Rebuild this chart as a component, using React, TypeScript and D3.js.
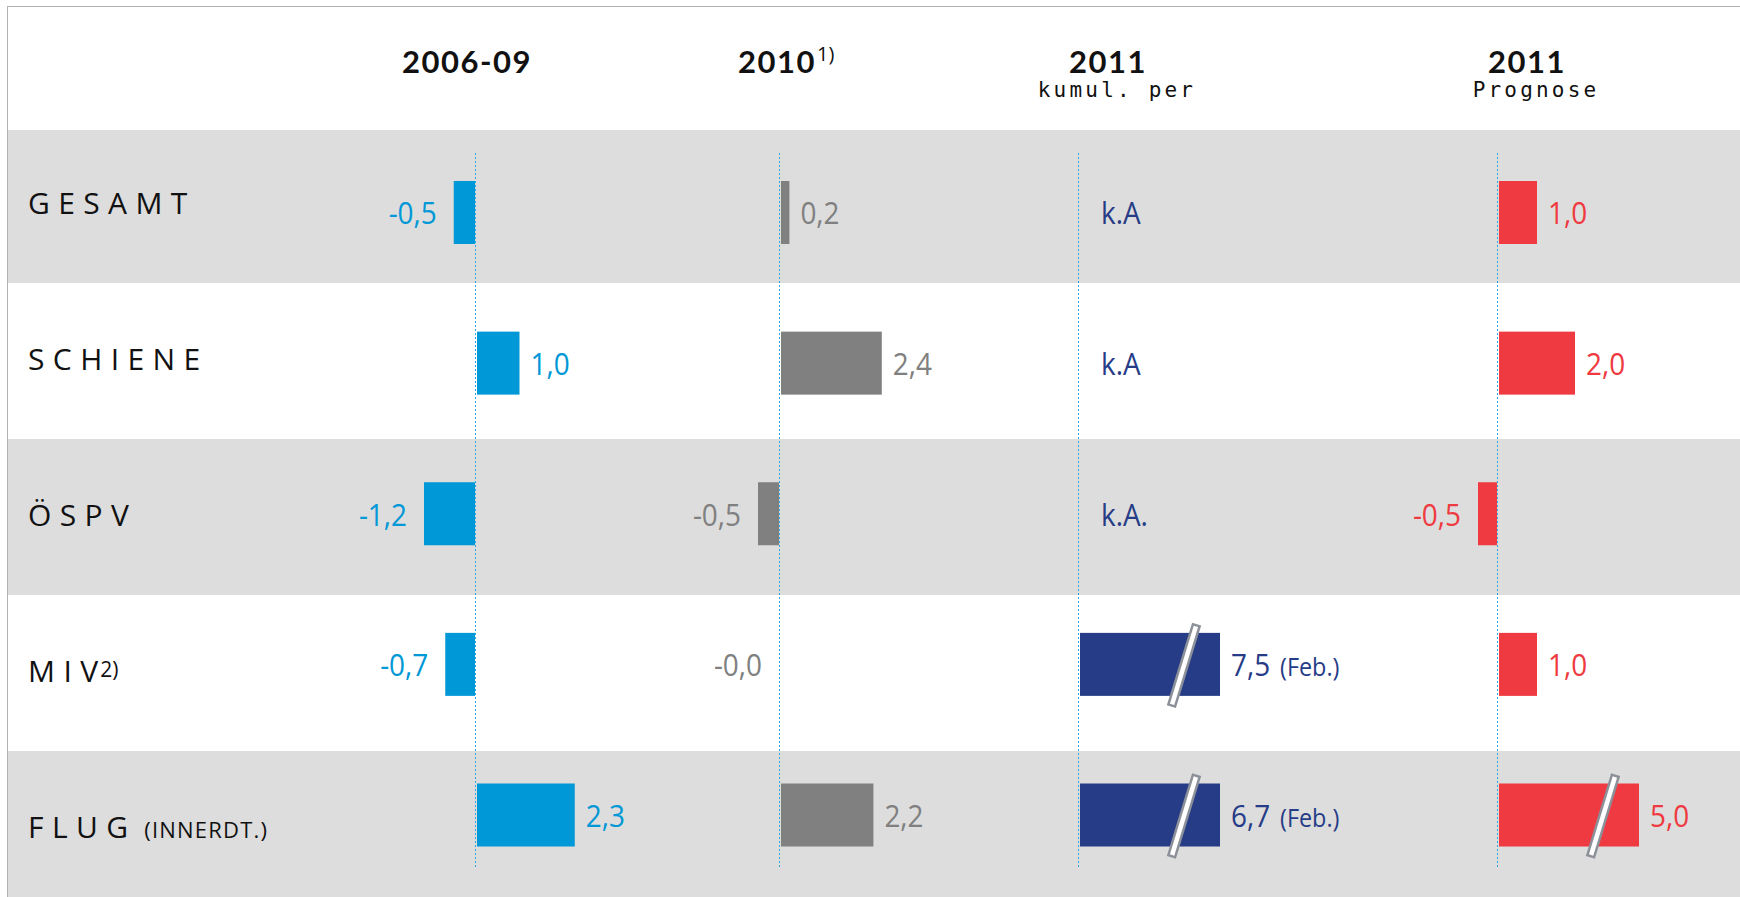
import { useEffect, useRef } from "react";
import * as d3 from "d3";

const categories = ["G E S A M T", "S C H I E N E", "Ö S P V", "M I V", "F L U G"];
const categorySup = ["", "", "", "2)", ""];
const categoryNote = ["", "", "", "", "(INNERDT.)"];

const columnTitles = ["2006-09", "2010", "2011", "2011"];
const columnTitleSup = ["", "1)", "", ""];
const columnSubtitles = ["", "", "kumul. per", "Prognose"];

const values2006to09 = [-0.5, 1.0, -1.2, -0.7, 2.3];
const values2010 = [0.2, 2.4, -0.5, -0, 2.2];
const values2011Kumul = [null, null, null, 7.5, 6.7];
const notes2011Kumul = ["k.A", "k.A", "k.A.", "", ""];
const periods2011Kumul = ["", "", "", "(Feb.)", "(Feb.)"];
const values2011Prognose = [1.0, 2.0, -0.5, 1.0, 5.0];

const W = 1740;
const H = 897;
const HEADER_BOTTOM = 130;
const BAR_H = 63;
const MAX_BAR = 140;
const VALUE_FONT = "'Open Sans', 'Noto Sans', sans-serif";

const fmt = (v: number) =>
  (v < 0 || Object.is(v, -0) ? "-" : "") + Math.abs(v).toFixed(1).replace(".", ",");

const App = () => {
  const svgRef = useRef<SVGSVGElement>(null);

  useEffect(() => {
    const svg = d3.select(svgRef.current);
    svg.selectAll("*").remove();

    const columns = [
      { values: values2006to09, color: "#0098d6", zero: 475, perUnit: 42.5, titleX: 467 },
      { values: values2010, color: "#808080", zero: 779, perUnit: 42, titleX: 777 },
      { values: values2011Kumul, color: "#263c87", zero: 1078, perUnit: 42, titleX: 1108 },
      { values: values2011Prognose, color: "#ee3a40", zero: 1497, perUnit: 38, titleX: 1527 },
    ];

    // frame
    svg.append("rect")
      .attr("x", 7.5).attr("y", 6.5)
      .attr("width", W).attr("height", H)
      .attr("fill", "#fff").attr("stroke", "#b3b3b3");

    const rowBand = d3.scaleBand<string>().domain(categories).range([127, 907]);
    const barY = d3.scalePoint<string>().domain(categories).range([212.5, 815]);

    svg.append("g")
      .selectAll("rect")
      .data(categories)
      .join("rect")
      .attr("x", 8)
      .attr("width", W)
      .attr("y", (d) => Math.max(rowBand(d)!, HEADER_BOTTOM))
      .attr("height", (d) => rowBand(d)! + rowBand.bandwidth() - Math.max(rowBand(d)!, HEADER_BOTTOM))
      .attr("fill", (d, i) => (i % 2 === 0 ? "#dddddd" : "#ffffff"));

    // row labels
    const rowLabels = svg.append("g")
      .attr("font-family", VALUE_FONT)
      .attr("fill", "#111");
    categories.forEach((cat, i) => {
      const y = rowBand(cat)! + rowBand.bandwidth() / 2 + 9;
      const t = rowLabels.append("text")
        .attr("x", 28).attr("y", y)
        .attr("font-size", 30)
        .attr("letter-spacing", 0.3)
        .text(cat);
      const w = (t.node() as SVGTextElement).getComputedTextLength();
      if (categorySup[i]) {
        rowLabels.append("text")
          .attr("x", 28 + w + 2).attr("y", y - 5)
          .attr("font-size", 21)
          .text(categorySup[i]);
      }
      if (categoryNote[i]) {
        rowLabels.append("text")
          .attr("x", 28 + w + 16).attr("y", y)
          .attr("font-size", 22)
          .attr("letter-spacing", 1.2)
          .text(categoryNote[i]);
      }
    });

    // headers
    const headers = svg.append("g").attr("fill", "#111");
    columns.forEach((col, c) => {
      const t = headers.append("text")
        .attr("x", col.titleX).attr("y", 73)
        .attr("text-anchor", "middle")
        .attr("font-family", "Lato, 'Liberation Sans', sans-serif")
        .attr("font-weight", "bold")
        .attr("font-size", 31)
        .attr("letter-spacing", 1.5)
        .text(columnTitles[c]);
      if (columnTitleSup[c]) {
        const w = (t.node() as SVGTextElement).getComputedTextLength();
        headers.append("text")
          .attr("x", col.titleX + w / 2 + 1).attr("y", 61)
          .attr("font-family", VALUE_FONT)
          .attr("font-size", 20)
          .text(columnTitleSup[c]);
      }
      if (columnSubtitles[c]) {
        headers.append("text")
          .attr("x", col.titleX + 9).attr("y", 97)
          .attr("text-anchor", "middle")
          .attr("font-family", "'DejaVu Sans Mono', monospace")
          .attr("font-size", 21)
          .attr("letter-spacing", 3.2)
          .text(columnSubtitles[c]);
      }
    });

    // bars and values
    columns.forEach((col) => {
      const x = d3.scaleLinear().domain([0, 1]).range([col.zero, col.zero + col.perUnit]);
      const g = svg.append("g");

      col.values.forEach((v, i) => {
        const cat = categories[i];
        const cy = barY(cat)!;
        let labelX: number;
        let anchor = "start";

        if (v === null) {
          g.append("g")
            .attr("transform", `translate(${col.zero + 23},${cy + 11.8}) scale(0.9,1)`)
            .append("text")
            .attr("font-family", VALUE_FONT)
            .attr("font-size", 31)
            .attr("fill", col.color)
            .text(notes2011Kumul[i]);
          return;
        }

        const negative = v < 0 || Object.is(v, -0);
        const full = Math.abs(x(v) - col.zero);
        const broken = full > MAX_BAR;
        const w = Math.min(full, MAX_BAR);
        const bx = negative ? col.zero - w : col.zero + 2;

        if (w > 0) {
          g.append("rect")
            .attr("x", bx).attr("y", cy - BAR_H / 2)
            .attr("width", w).attr("height", BAR_H)
            .attr("fill", col.color);
        }

        if (broken) {
          g.append("rect")
            .attr("x", -3.5).attr("y", -42)
            .attr("width", 7).attr("height", 84)
            .attr("fill", "#fff")
            .attr("stroke", "#8c9099")
            .attr("stroke-width", 2.5)
            .attr("transform", `translate(${bx + 104},${cy + 1}) rotate(17)`);
        }

        if (negative) {
          labelX = bx - 17;
          anchor = "end";
        } else {
          labelX = bx + w + 11;
        }

        const text = g.append("g")
          .attr("transform", `translate(${labelX},${cy + 11.8}) scale(0.9,1)`)
          .append("text")
          .attr("text-anchor", anchor)
          .attr("font-family", VALUE_FONT)
          .attr("font-size", 31)
          .attr("fill", col.color)
          .text(fmt(v));

        if (col.values === values2011Kumul && periods2011Kumul[i]) {
          text.append("tspan")
            .attr("dx", 11)
            .attr("font-size", 26)
            .text(periods2011Kumul[i]);
        }
      });

      // dotted zero line
      svg.append("line")
        .attr("x1", col.zero + 0.5).attr("x2", col.zero + 0.5)
        .attr("y1", 153).attr("y2", 869)
        .attr("stroke", "#2ea6de")
        .attr("stroke-width", 1)
        .attr("stroke-dasharray", "2,2");
    });
  }, []);

  return (
    <svg
      ref={svgRef}
      width={W}
      height={H}
      style={{ position: "absolute", left: 0, top: 0, display: "block" }}
    />
  );
};

export default App;
